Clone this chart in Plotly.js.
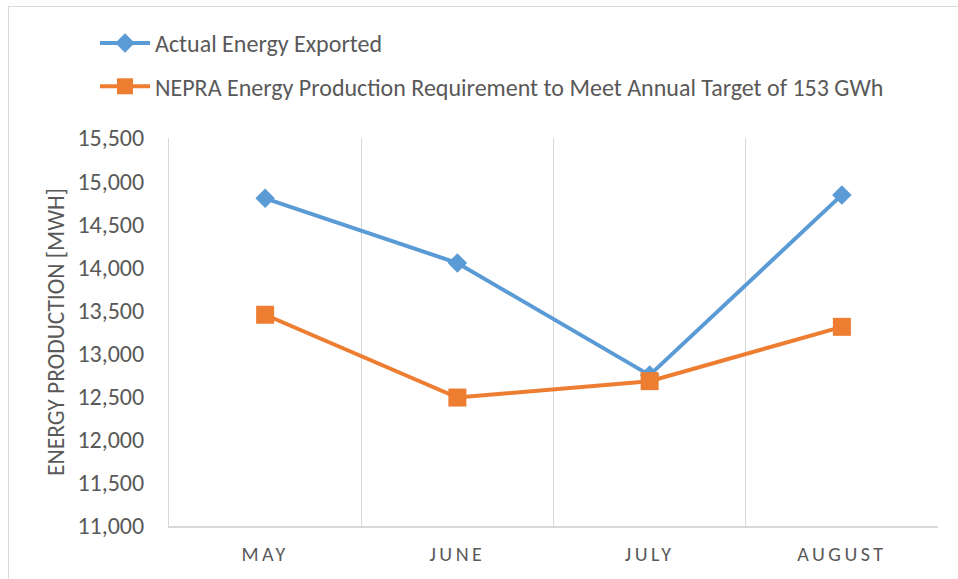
<!DOCTYPE html>
<html>
<head>
<meta charset="utf-8">
<script src="https://cdn.plot.ly/plotly-3.0.1.min.js"></script>
<style>
html,body{margin:0;padding:0;background:#fff;}
#wrap{position:relative;width:958px;height:579px;overflow:hidden;}
#chart{position:absolute;left:0;top:0;width:958px;height:579px;}
#frame{position:absolute;left:8px;top:6px;width:2000px;height:2000px;border-left:1px solid #D9D9D9;border-top:1px solid #D9D9D9;pointer-events:none;}
.xtick text{letter-spacing:3.5px;}
</style>
</head>
<body>
<div id="wrap"><div id="chart"></div><div id="frame"></div></div>
<script>
var months = ["MAY", "JUNE", "JULY", "AUGUST"];
var actualExported = [14800, 14050, 12750, 14840];
var nepraRequirement = [13450, 12490, 12680, 13310];
var seriesNames = ["Actual Energy Exported", "NEPRA Energy Production Requirement to Meet Annual Target of 153 GWh"];
var yTicks = [11000, 11500, 12000, 12500, 13000, 13500, 14000, 14500, 15000, 15500];

var fontFam = "Carlito, Lato, 'Open Sans', sans-serif";
var txt = "#595959";

var traces = [
  {
    x: months, y: actualExported, name: seriesNames[0], type: "scatter", mode: "lines+markers",
    legendgroup: "a",
    line: {color: "#5B9BD5", width: 4},
    marker: {symbol: "diamond", size: 15, color: "#5B9BD5"}
  },
  {
    x: months, y: nepraRequirement, name: seriesNames[1], type: "scatter", mode: "lines+markers",
    legendgroup: "b",
    line: {color: "#ED7D31", width: 4},
    marker: {symbol: "square", size: 18, color: "#ED7D31"}
  }
];

var mL = 169, mR = 20, plotW = 958 - mL - mR;

var layout = {
  width: 958, height: 579,
  margin: {l: mL, r: mR, t: 138, b: 53},
  paper_bgcolor: "#fff", plot_bgcolor: "#fff",
  font: {family: fontFam, color: txt, size: 20},
  showlegend: true,
  legend: {
    xref: "paper", yref: "container",
    x: (95 - mL) / plotW, y: 1 - 21/579, xanchor: "left", yanchor: "top",
    font: {family: fontFam, size: 24, color: txt},
    tracegroupgap: 9, traceorder: "grouped",
    itemwidth: 50,
    bgcolor: "rgba(0,0,0,0)"
  },
  xaxis: {
    type: "category",
    range: [-0.5, 3.5],
    tickson: "boundaries",
    showgrid: true, gridcolor: "#D9D9D9", gridwidth: 1,
    showline: true, linecolor: "#D9D9D9", linewidth: 1.5,
    ticks: "", ticklabelstandoff: 9, tickangle: 0,
    tickfont: {family: fontFam, size: 20, color: txt},
    zeroline: false, fixedrange: true, automargin: false
  },
  yaxis: {
    range: [11000, 15500],
    tickvals: yTicks,
    tickformat: ",d",
    showgrid: false,
    showline: true, linecolor: "#D9D9D9", linewidth: 1,
    ticks: "", ticklabelstandoff: 19,
    tickfont: {family: fontFam, size: 24, color: txt},
    zeroline: false, automargin: false,
    title: {text: "ENERGY PRODUCTION [MWH]", standoff: 6, font: {family: fontFam, size: 23.5, color: txt}},
    fixedrange: true
  }
};

Plotly.newPlot("chart", traces, layout, {displayModeBar: false, staticPlot: true});
</script>
</body>
</html>
